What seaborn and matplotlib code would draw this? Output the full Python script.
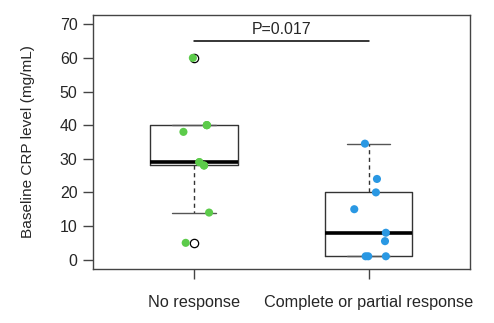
import numpy as np
import pandas as pd
import matplotlib
matplotlib.use("Agg")
import matplotlib.pyplot as plt
import seaborn as sns

# ---- data ----
categories = ["No response", "Complete or partial response"]
no_resp_values = [60, 40, 40, 40, 38, 29, 29, 28, 28, 14, 5]
no_resp_jitter = [-0.007, 0.073, 0.073, 0.073, -0.061, 0.030, 0.030, 0.057, 0.057, 0.086, -0.048]
resp_values = [34.5, 24, 20, 15, 8, 5.5, 1, 1, 1]
resp_jitter = [-0.021, 0.048, 0.042, -0.082, 0.099, 0.094, -0.017, -0.002, 0.099]
point_colors = ["#5ccb4a", "#2a98e3"]
yticks = [0, 10, 20, 30, 40, 50, 60, 70]
p_label = "P=0.017"
p_y = 65

df = pd.DataFrame({
    "group": [categories[0]] * len(no_resp_values) + [categories[1]] * len(resp_values),
    "value": no_resp_values + resp_values,
    "jitter": no_resp_jitter + resp_jitter,
})
df["xpos"] = df["group"].map({c: i for i, c in enumerate(categories)}) + df["jitter"]

sns.set_style("white")
plt.rcParams["font.family"] = ["Liberation Sans", "DejaVu Sans"]

fig = plt.figure(figsize=(4.94, 3.23), dpi=100)
ax = fig.add_axes([0.188, 0.167, 0.763, 0.787])

edge = "#333333"
sns.boxplot(data=df, x="group", y="value", order=categories, ax=ax,
            width=0.5, whis=1.5, fill=False, color=edge, linewidth=1.0,
            whiskerprops=dict(linestyle=(0, (3, 2.5)), color=edge, linewidth=1.0),
            capprops=dict(color="#555555", linewidth=1.0),
            medianprops=dict(color="black", linewidth=2.6),
            boxprops=dict(color=edge, linewidth=1.0),
            flierprops=dict(marker="o", markerfacecolor="white",
                            markeredgecolor="black", markersize=6.0,
                            markeredgewidth=0.9),
            zorder=2)

sns.scatterplot(data=df, x="xpos", y="value", hue="group", hue_order=categories,
                palette=point_colors, s=34, edgecolor="none", legend=False,
                ax=ax, zorder=3)

# significance bar
ax.plot([0, 1], [p_y, p_y], color="black", linewidth=1.1, zorder=4)
ax.text(0.5, p_y + 1.2, p_label, ha="center", va="bottom", fontsize=11.4)

ax.set_xlim(-0.58, 1.58)
ax.set_ylim(-2.8, 72.8)
ax.set_yticks(yticks)
ax.set_xticks([0, 1])
ax.set_xticklabels(categories)
ax.set_xlabel("")
ax.set_ylabel("Baseline CRP level (mg/mL)", fontsize=11.1, labelpad=18)

for s in ax.spines.values():
    s.set_visible(True)
    s.set_color("#444444")
    s.set_linewidth(1.0)
ax.tick_params(axis="y", direction="out", length=7, width=1, color="#444444",
               labelsize=11.5, pad=4, left=True)
ax.tick_params(axis="x", direction="out", length=7, width=1, color="#444444",
               labelsize=11.7, pad=12, bottom=True)

fig.savefig("out.png", dpi=100)
